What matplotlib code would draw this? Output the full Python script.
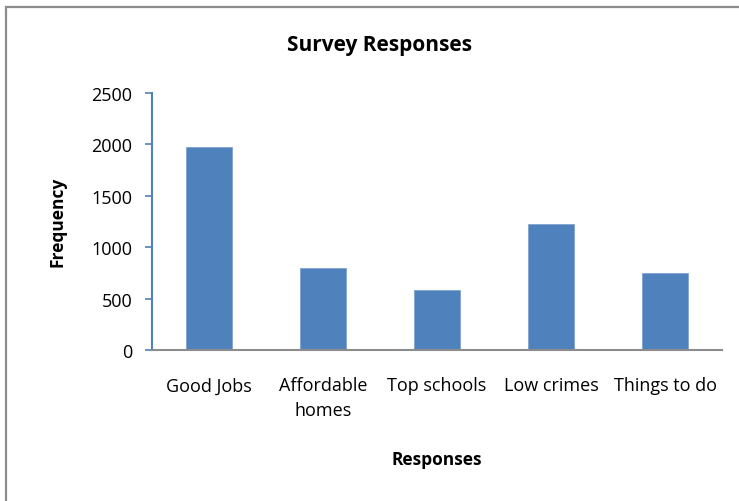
import matplotlib.pyplot as plt
import numpy as np
from matplotlib.patches import Rectangle

categories = ["Good Jobs", "Affordable\nhomes", "Top schools", "Low crimes", "Things to do"]
frequency = [1975, 800, 582, 1225, 747]

plt.rcParams["font.family"] = ["Open Sans", "DejaVu Sans"]

fig = plt.figure(figsize=(7.39, 5.02), dpi=100)
ax = fig.add_axes([152 / 739, 1 - 351 / 502, 570 / 739, 257 / 502])

x = np.arange(len(categories))
ax.bar(x, frequency, width=0.4, color="#4F81BD", edgecolor="#7FA3D0", linewidth=0.6)

ax.set_xlim(-0.5, len(categories) - 0.5)
ax.set_ylim(0, 2500)
ax.set_yticks(np.arange(0, 2501, 500))
ax.set_xticks(x)
ax.set_xticklabels(categories, fontsize=13, linespacing=1.5)
ax.tick_params(axis="y", labelsize=13, length=5, color="#4F81BD", width=1.2, pad=9)
ax.tick_params(axis="x", length=0, pad=19)
for lbl in ax.get_xticklabels():
    lbl.set_verticalalignment("top")

for side in ("top", "right"):
    ax.spines[side].set_visible(False)
ax.spines["left"].set_color("#4F81BD")
ax.spines["left"].set_linewidth(1.5)
ax.spines["bottom"].set_color("#8C8C8C")
ax.spines["bottom"].set_linewidth(1.5)

fig.text(380 / 739, 1 - 46 / 502, "Survey Responses", ha="center", va="center",
         fontsize=15, fontweight="bold")
fig.text(57 / 739, 1 - 222 / 502, "Frequency", ha="center", va="center",
         rotation=90, fontsize=12.5, fontweight="bold")
fig.text(437 / 739, 1 - 460 / 502, "Responses", ha="center", va="center",
         fontsize=12.5, fontweight="bold")

# outer chart frame (cropped at right and bottom in the reference)
fig.patches.append(Rectangle((6 / 739, -0.05), 1.2, 1 - 8 / 502 + 0.05,
                             transform=fig.transFigure, fill=False,
                             edgecolor="#8C8C8C", linewidth=1.6))

fig.savefig("out.png", dpi=100)
